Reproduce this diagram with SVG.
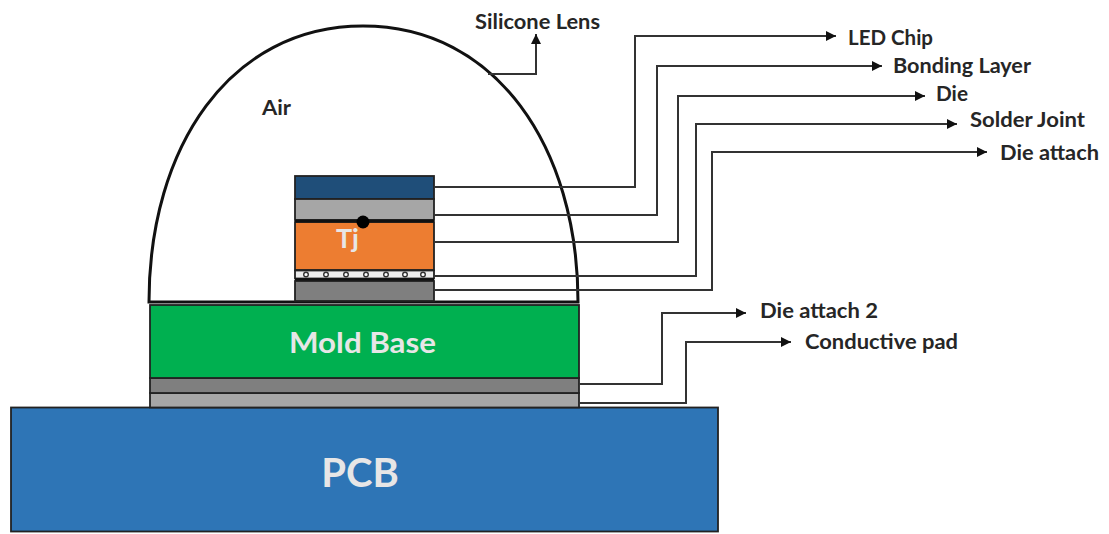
<svg xmlns="http://www.w3.org/2000/svg" width="1109" height="534" viewBox="0 0 1109 534">
<style>
text{font-family:Lato,"Liberation Sans",sans-serif;font-weight:700}
.l{font-size:20px;fill:#262626}
.w{fill:#e7e6e6}
.b{stroke:#222;stroke-width:1.8}
.c{fill:none;stroke:#333;stroke-width:2}
.d{fill:#fff;stroke:#333;stroke-width:1.400}
</style>
<defs><marker id="a" markerUnits="userSpaceOnUse" markerWidth="12" markerHeight="10" refX="10" refY="5" orient="auto"><path d="M0 0L10 5L0 10Z" fill="#111"/></marker></defs>
<rect width="1109" height="534" fill="#fff"/>
<g id="pcb"><rect x="11" y="407.500" width="707" height="124" fill="#2e75b6" class="b"/><text x="360" y="487" font-size="40" text-anchor="middle" class="w">PCB</text></g>
<g id="conductive-pad-layer"><rect x="150" y="393" width="429" height="14.500" fill="#a6a6a6" class="b"/></g>
<g id="die-attach-2-layer"><rect x="150" y="378" width="429" height="15" fill="#7f7f7f" class="b"/></g>
<g id="mold-base"><rect x="150" y="305" width="429" height="73" fill="#00b050" class="b"/><text x="289" y="353" font-size="29" textLength="147" lengthAdjust="spacingAndGlyphs" class="w">Mold Base</text></g>
<g id="lens"><path d="M149 302C149 147 230 26 363 26C496 26 578 147 578 302Z" fill="#fff" stroke="#111" stroke-width="3"/><text x="262" y="115" textLength="29" lengthAdjust="spacingAndGlyphs" class="l">Air</text></g>
<g id="led-chip"><rect x="295" y="176" width="139" height="23" fill="#1f4e79" class="b"/></g>
<g id="bonding-layer"><rect x="295" y="199" width="139" height="21" fill="#a6a6a6" class="b"/></g>
<g id="die"><rect x="295" y="222" width="139" height="48" fill="#ed7d31" class="b"/><line x1="295" y1="221" x2="434" y2="221" stroke="#111" stroke-width="3"/><text x="336" y="248" font-size="27" class="w">Tj</text></g>
<g id="solder-joint"><rect x="295" y="270.500" width="139" height="8" fill="#ececec" class="b"/><circle cx="306" cy="274.500" r="2.300" class="d"/><circle cx="326" cy="274.500" r="2.300" class="d"/><circle cx="346" cy="274.500" r="2.300" class="d"/><circle cx="366" cy="274.500" r="2.300" class="d"/><circle cx="386" cy="274.500" r="2.300" class="d"/><circle cx="405" cy="274.500" r="2.300" class="d"/><circle cx="423" cy="274.500" r="2.300" class="d"/></g>
<g id="die-attach"><rect x="295" y="281" width="139" height="20" fill="#7f7f7f" class="b"/><line x1="295" y1="279.500" x2="434" y2="279.500" stroke="#111" stroke-width="2.500"/></g>
<g id="tj-point"><circle cx="363" cy="222" r="6.500" fill="#000"/></g>
<g id="connectors">
<path class="c" d="M488 74H536V34" marker-end="url(#a)"/>
<path class="c" d="M434 187H635V36H836" marker-end="url(#a)"/>
<path class="c" d="M434 215H657V66H882" marker-end="url(#a)"/>
<path class="c" d="M434 242H678V96H925" marker-end="url(#a)"/>
<path class="c" d="M434 276H696V124H957" marker-end="url(#a)"/>
<path class="c" d="M434 290H712V152H987" marker-end="url(#a)"/>
<path class="c" d="M579 384H662V313H746" marker-end="url(#a)"/>
<path class="c" d="M579 403H686V342H791" marker-end="url(#a)"/>
</g>
<g id="labels">
<text class="l" x="475" y="29" textLength="125" lengthAdjust="spacingAndGlyphs">Silicone Lens</text>
<text class="l" x="848" y="45" textLength="85" lengthAdjust="spacingAndGlyphs">LED Chip</text>
<text class="l" x="893" y="73" textLength="138" lengthAdjust="spacingAndGlyphs">Bonding Layer</text>
<text class="l" x="936" y="101" textLength="32" lengthAdjust="spacingAndGlyphs">Die</text>
<text class="l" x="970" y="127" textLength="115" lengthAdjust="spacingAndGlyphs">Solder Joint</text>
<text class="l" x="1000" y="160" textLength="99" lengthAdjust="spacingAndGlyphs">Die attach</text>
<text class="l" x="760" y="318" textLength="118" lengthAdjust="spacingAndGlyphs">Die attach 2</text>
<text class="l" x="805" y="349" textLength="153" lengthAdjust="spacingAndGlyphs">Conductive pad</text>
</g>
</svg>
